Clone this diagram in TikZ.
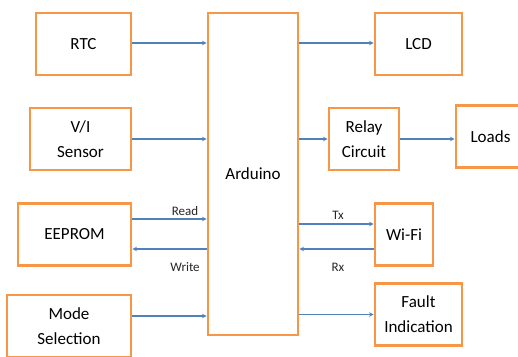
\documentclass[tikz,border=0pt]{standalone}
\usepackage{fontspec}
\setmainfont{Carlito}
\definecolor{boxorange}{RGB}{247,150,70}
\definecolor{arrowblue}{RGB}{79,129,189}
\begin{document}
\begin{tikzpicture}[x=1pt, y=-1pt,
        every node/.style={font=\fontsize{17}{25}\selectfont},
        mainbox/.style={rectangle, minimum height=62pt,
            align=center, text centered, draw=boxorange,
            line width=2.6pt, fill=white, inner sep=0pt},
        arrow/.style={->, >=stealth, line width=1.1pt, draw=arrowblue},
        label/.style={font=\fontsize{13}{15}\selectfont, text=black!85}
      ]
      \useasboundingbox (0,0) rectangle (518,356);
      \clip (0,0) rectangle (518,356);
      \node[mainbox, minimum width=95pt]  (rtc)    at (83.5, 44)   {RTC};
      \node[mainbox, minimum width=101pt] (sensor) at (80.5, 139)  {V/I\\Sensor};
      \node[mainbox, minimum width=113pt] (eeprom) at (74.5, 234.5) {EEPROM};
      \node[mainbox, minimum width=124pt] (mode)   at (69, 326)    {Mode\\Selection};
      \node[mainbox, minimum width=90pt, minimum height=322pt]
      (ard) at (253, 174) {Arduino};
      \node[mainbox, minimum width=87pt]  (lcd)    at (418.5, 44)  {LCD};
      \node[mainbox, minimum width=70pt]  (relay)  at (364, 139)   {Relay\\Circuit};
      \node[mainbox, minimum width=69pt]  (loads)  at (490.5, 136.5) {Loads};
      \node[mainbox, minimum width=58pt]  (wifi)   at (404, 234.5) {Wi-Fi};
      \node[mainbox, minimum width=87pt]  (fault)  at (418.5, 314.5) {Fault\\Indication};
      \node[label] (read)  at (185, 211) {Read};
      \node[label] (write) at (185, 267) {Write};
      \node[label] (tx)    at (338, 215) {Tx};
      \node[label] (rx)    at (338, 267) {Rx};
      \draw[arrow] ([yshift=1pt]rtc.east) -- ([yshift=1pt]rtc.east -| ard.west);
      \draw[arrow] (sensor.east) -- (sensor.east -| ard.west);
      \draw[arrow] ([yshift=15.5pt]eeprom.east) -- ([yshift=15.5pt]eeprom.east -| ard.west);
      \draw[arrow] ([yshift=-14.5pt]eeprom.east -| ard.west) -- ([yshift=-14.5pt]eeprom.east);
      \draw[arrow] ([yshift=10pt]mode.east) -- ([yshift=10pt]mode.east -| ard.west);
      \draw[arrow] ([yshift=1pt]lcd.west -| ard.east) -- ([yshift=1pt]lcd.west);
      \draw[arrow] (relay.west -| ard.east) -- (relay.west);
      \draw[arrow] (relay.east) -- (relay.east -| loads.west);
      \draw[arrow] ([yshift=10.5pt]wifi.west -| ard.east) -- ([yshift=10.5pt]wifi.west);
      \draw[arrow] ([yshift=-14.5pt]wifi.west) -- ([yshift=-14.5pt]wifi.west -| ard.east);
      \draw[arrow] (fault.west -| ard.east) -- (fault.west);
    \end{tikzpicture}
\end{document}
